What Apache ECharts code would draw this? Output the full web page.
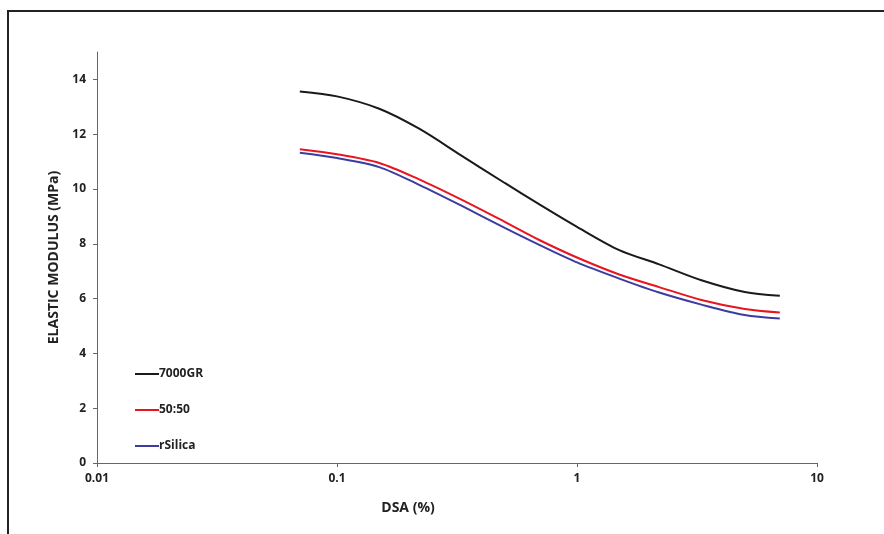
<!DOCTYPE html>
<html>
<head>
<meta charset="utf-8">
<script src="https://cdn.jsdelivr.net/npm/echarts@6/dist/echarts.min.js"></script>
<style>
  html, body { margin: 0; padding: 0; background: #fff; }
  #modulo { width: 884px; height: 534px; }
</style>
</head>
<body>
<div id="modulo"></div>
<script>
// DSA (%) sweep points
var dsa = [0.07, 0.1, 0.15, 0.22, 0.33, 0.5, 0.7, 1, 1.5, 2.2, 3.3, 5, 7];
var gr7000 = [13.56, 13.38, 12.93, 12.2, 11.22, 10.22, 9.43, 8.62, 7.77, 7.25, 6.67, 6.24, 6.1];
var mix5050 = [11.45, 11.27, 10.95, 10.35, 9.61, 8.8, 8.13, 7.5, 6.88, 6.42, 5.95, 5.62, 5.49];
var rsilica = [11.32, 11.13, 10.8, 10.15, 9.39, 8.58, 7.95, 7.32, 6.73, 6.22, 5.78, 5.4, 5.27];
var nomes = ['7000GR', '50:50', 'rSilica'];
var cores = ['#1a1a1a', '#e8141e', '#3c3ca0'];
var xTicks = ['0.01', '0.1', '1', '10'];

function pares(ys) {
  return dsa.map(function (x, i) { return [x, ys[i]]; });
}

var fonte = 'Open Sans';
var grafico = echarts.init(document.getElementById('modulo'));

var option = {
  animation: false,
  backgroundColor: '#fff',
  textStyle: { fontFamily: fonte },
  grid: { left: 97, right: 67, top: 52, bottom: 71 },
  graphic: [
    {
      type: 'rect',
      shape: { x: 8, y: 11, width: 920, height: 600 },
      style: { fill: 'none', stroke: '#222', lineWidth: 2 },
      silent: true
    },
    {
      type: 'text',
      x: 408, y: 508,
      style: {
        text: 'DSA (%)', fill: '#222', font: 'bold 14px "' + fonte + '"',
        align: 'center', verticalAlign: 'middle'
      }
    }
  ],
  legend: {
    orient: 'vertical',
    left: 130,
    top: 362,
    itemGap: 22,
    itemWidth: 24,
    itemHeight: 2,
    icon: 'rect',
    data: nomes,
    textStyle: { fontFamily: fonte, fontSize: 12, lineHeight: 14, fontWeight: 'bold', color: '#222', padding: [0, 0, 0, -5] }
  },
  xAxis: {
    type: 'log',
    logBase: 10,
    min: 0.01,
    max: 10,
    axisLine: { lineStyle: { color: '#666', width: 1 } },
    axisTick: { show: true, inside: false, length: 4, lineStyle: { color: '#666' } },
    minorTick: { show: false },
    splitLine: { show: false },
    axisLabel: {
      margin: 10, fontSize: 12, fontWeight: 'bold', color: '#222', fontFamily: fonte,
      formatter: function (v) {
        var k = Math.round(Math.log10(v)) + 2;
        return xTicks[k] !== undefined ? xTicks[k] : '';
      }
    }
  },
  yAxis: {
    type: 'value',
    min: 0,
    max: 15,
    interval: 2,
    name: 'ELASTIC MODULUS (MPa)',
    nameLocation: 'middle',
    nameGap: 33,
    nameTextStyle: { fontSize: 14, fontWeight: 'bold', color: '#222', fontFamily: fonte },
    axisLine: { show: true, lineStyle: { color: '#666', width: 1 } },
    axisTick: { show: true, length: 4, lineStyle: { color: '#666' } },
    splitLine: { show: false },
    axisLabel: {
      margin: 11, fontSize: 12, fontWeight: 'bold', color: '#222', fontFamily: fonte,
      showMaxLabel: false
    }
  },
  series: [
    { name: nomes[0], type: 'line', data: pares(gr7000), smooth: 0.3, showSymbol: false,
      color: cores[0], lineStyle: { width: 2, color: cores[0] } },
    { name: nomes[1], type: 'line', data: pares(mix5050), smooth: 0.3, showSymbol: false,
      color: cores[1], lineStyle: { width: 2, color: cores[1] } },
    { name: nomes[2], type: 'line', data: pares(rsilica), smooth: 0.3, showSymbol: false,
      color: cores[2], lineStyle: { width: 2, color: cores[2] } }
  ]
};
grafico.setOption(option);
</script>
</body>
</html>
